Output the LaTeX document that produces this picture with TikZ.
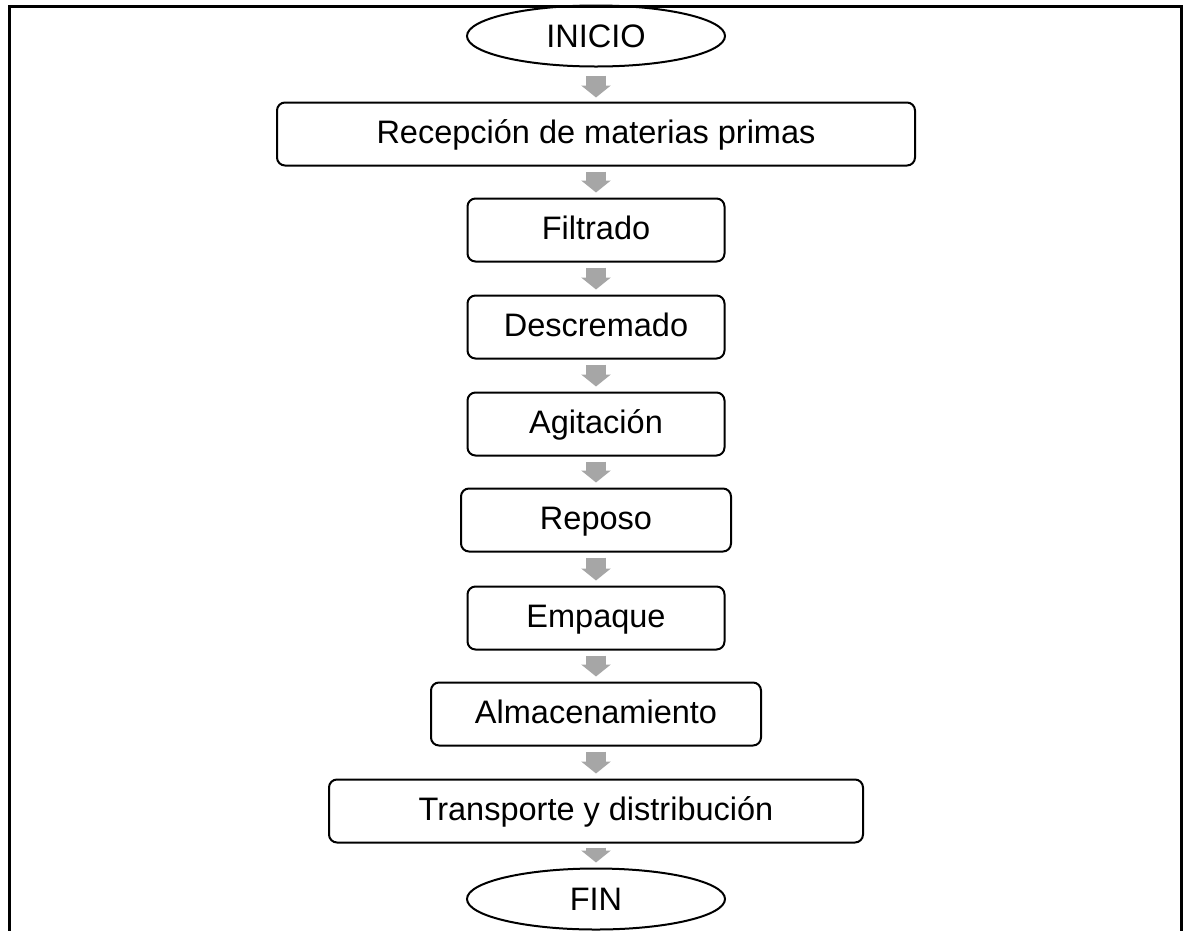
\documentclass[tikz,border=0pt]{standalone}
\usepackage{fontspec}
\setmainfont{Liberation Sans}
\usetikzlibrary{shapes.geometric,arrows.meta}
\definecolor{flowgray}{HTML}{A6A6A6}
\begin{document}
\begin{tikzpicture}[x=1pt,y=-1pt,
  label font/.style={font=\fontsize{32.5}{37}\selectfont},
  stepbox/.style={draw=black,line width=2pt,rounded corners=8pt,
    minimum height=63pt,inner sep=0pt,label font,
    text height=23pt,text depth=4pt},
  terminal/.style={draw=black,ellipse,line width=2pt,
    minimum width=258pt,minimum height=61pt,inner sep=0pt,label font,
    text height=23pt,text depth=0pt},
  flow/.style={draw=flowgray,line width=20pt,
    -{Triangle[width=29pt,length=12pt]},
    shorten <=5pt,shorten >=5pt}
]
\useasboundingbox (0,0) rectangle (1183,930);
\clip (0,0) rectangle (1183,930);

% open frame around the chart
\draw[line width=3.5pt,line join=miter] (9.5,945) -- (9.5,6.5) -- (1182,6.5) -- (1182,945);

% process steps
\node[terminal] (inicio) at (596,36) {INICIO};
\node[stepbox,minimum width=638pt] (recep)  at (596,134) {Recepción de materias primas};
\node[stepbox,minimum width=257pt] (filt)   at (596,230) {Filtrado};
\node[stepbox,minimum width=257pt] (desc)   at (596,327) {Descremado};
\node[stepbox,minimum width=257pt] (agit)   at (596,424) {Agitación};
\node[stepbox,minimum width=270pt] (repo)   at (596,520) {Reposo};
\node[stepbox,minimum width=257pt] (emp)    at (596,618) {Empaque};
\node[stepbox,minimum width=330pt] (alm)    at (596,714) {Almacenamiento};
\node[stepbox,minimum width=534pt] (trans)  at (596,811) {Transporte y distribución};
\node[terminal] (fin) at (596,899) {FIN};

% block arrows between steps
\draw[flow,shorten <=8pt,shorten >=4pt] (inicio.south) -- (recep.north);
\draw[flow] (recep.south) -- (filt.north);
\draw[flow] (filt.south) -- (desc.north);
\draw[flow] (desc.south) -- (agit.north);
\draw[flow] (agit.south) -- (repo.north);
\draw[flow] (repo.south) -- (emp.north);
\draw[flow] (emp.south) -- (alm.north);
\draw[flow] (alm.south) -- (trans.north);
\draw[flow,shorten <=4pt,shorten >=5pt] (trans.south) -- (fin.north);
\end{tikzpicture}
\end{document}
